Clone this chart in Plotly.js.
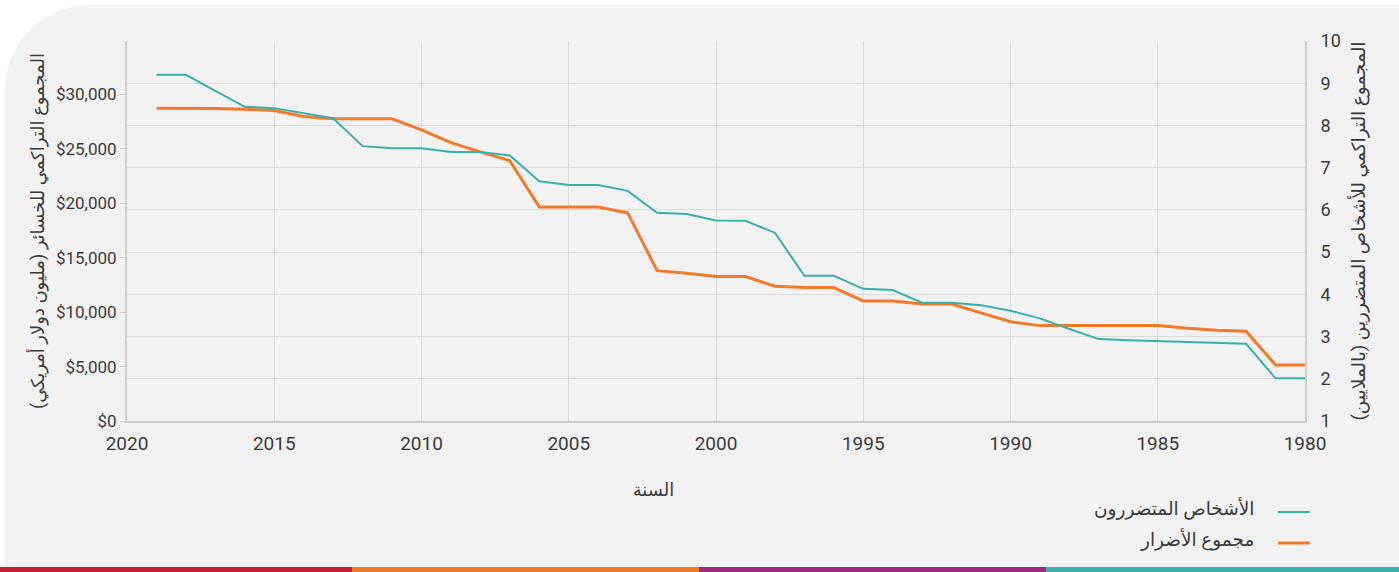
<!DOCTYPE html>
<html>
<head>
<meta charset="utf-8">
<script src="https://cdn.plot.ly/plotly-3.0.1.min.js"></script>
<style>
  html, body { margin:0; padding:0; background:#ffffff; width:1399px; height:572px; overflow:hidden; }
  #panel { position:absolute; left:5px; top:5px; width:1394px; height:567px; background:#f2f2f2; border-top-left-radius:85px; }
  #chart { position:absolute; left:0; top:0; width:1399px; height:572px; }
  .bar { position:absolute; top:567px; height:5px; }
</style>
</head>
<body>
<div id="panel"></div>
<div class="bar" style="left:0;width:352px;background:#c8202f"></div>
<div class="bar" style="left:352px;width:347px;background:#f07a2a"></div>
<div class="bar" style="left:699px;width:347px;background:#9b2b86"></div>
<div class="bar" style="left:1046px;width:353px;background:#3ab0aa"></div>
<div id="chart"></div>
<script>
// Years (x axis)
const years = [2019, 2018, 2017, 2016, 2015, 2014, 2013, 2012, 2011, 2010,
               2009, 2008, 2007, 2006, 2005, 2004, 2003, 2002, 2001, 2000,
               1999, 1998, 1997, 1996, 1995, 1994, 1993, 1992, 1991, 1990,
               1989, 1988, 1987, 1986, 1985, 1984, 1983, 1982, 1981, 1980];

// Cumulative affected people (millions) - right axis
const affectedPeople = [9.20, 9.20, 8.82, 8.44, 8.41, 8.29, 8.17, 7.51, 7.46, 7.46,
                        7.37, 7.37, 7.29, 6.68, 6.59, 6.59, 6.45, 5.93, 5.90, 5.75,
                        5.74, 5.46, 4.44, 4.44, 4.13, 4.10, 3.80, 3.80, 3.74, 3.61,
                        3.43, 3.18, 2.94, 2.91, 2.89, 2.87, 2.85, 2.83, 2.01, 2.01];

// Cumulative damages (million USD) - left axis
const totalDamages = [28730, 28730, 28690, 28640, 28510, 27960, 27750, 27750, 27750, 26740,
                      25570, 24720, 23910, 19660, 19660, 19660, 19110, 13810, 13570, 13280,
                      13260, 12380, 12250, 12250, 11030, 11030, 10750, 10750, 9930, 9120,
                      8760, 8760, 8760, 8760, 8760, 8520, 8330, 8240, 5150, 5150];

const seriesNames = ['الأشخاص المتضررون', 'مجموع الأضرار'];
const xTitle = 'السنة';
const yLeftTitle = 'المجموع التراكمي للخسائر (مليون دولار أمريكي)';
const yRightTitle = 'المجموع التراكمي للأشخاص المتضررين (بالملايين)';

const tealColor = '#3ab0aa';
const orangeColor = '#f47a2a';
const fontFamily = 'Roboto, "Noto Sans", "DejaVu Sans", sans-serif';
const textColor = '#3a3a3a';
const gridColor = '#dcdcdc';

// trailing no-break spaces (closed by a left-to-right mark so they are kept)
// push the centred x title to the left, as in the reference
const xTitlePad = '\u00A0'.repeat(28) + '\u200E';

const traces = [
  { x: years, y: affectedPeople, name: seriesNames[0], type: 'scatter', mode: 'lines',
    yaxis: 'y2', line: { color: tealColor, width: 2 }, showlegend: false },
  { x: years, y: totalDamages, name: seriesNames[1], type: 'scatter', mode: 'lines',
    yaxis: 'y', line: { color: orangeColor, width: 3 }, showlegend: false }
];

const layout = {
  width: 1399, height: 572,
  paper_bgcolor: 'rgba(0,0,0,0)',
  plot_bgcolor: 'rgba(0,0,0,0)',
  margin: { l: 127, r: 94, t: 41, b: 151 },
  font: { family: fontFamily, size: 16, color: textColor },
  showlegend: false,
  xaxis: {
    range: [2020, 1980],
    dtick: 5, tick0: 1980,
    showgrid: true, gridcolor: gridColor, gridwidth: 1,
    showline: true, linecolor: '#cccccc', linewidth: 2,
    zeroline: false, ticks: '', ticklabelstandoff: 4,
    tickfont: { size: 19, color: textColor },
    title: { text: xTitle + xTitlePad, font: { size: 18, color: textColor }, standoff: 30 }
  },
  yaxis: {
    range: [0, 34900],
    dtick: 5000, tick0: 0,
    tickprefix: '$', tickformat: ',.0f',
    showgrid: false, zeroline: false,
    showline: true, linecolor: '#cccccc', linewidth: 2,
    ticks: 'outside', ticklen: 5, tickcolor: '#cccccc',
    tickfont: { size: 17, color: textColor },
    title: { text: yLeftTitle, font: { size: 18, color: textColor }, standoff: 7 }
  },
  yaxis2: {
    range: [1, 10],
    dtick: 1, tick0: 1,
    overlaying: 'y', side: 'right',
    showgrid: true, gridcolor: gridColor, gridwidth: 1,
    zeroline: false,
    showline: true, linecolor: '#cccccc', linewidth: 2,
    ticks: '', ticklabelstandoff: 10,
    tickfont: { size: 18, color: textColor },
    title: { text: yRightTitle, font: { size: 18.5, color: textColor }, standoff: 12 }
  },
  shapes: [
    { type: 'line', xref: 'paper', yref: 'paper', x0: 0.977, x1: 1.004, y0: -0.2395, y1: -0.2395,
      line: { color: tealColor, width: 2 } },
    { type: 'line', xref: 'paper', yref: 'paper', x0: 0.977, x1: 1.004, y0: -0.321, y1: -0.321,
      line: { color: orangeColor, width: 3 } }
  ],
  annotations: [
    { xref: 'paper', yref: 'paper', x: 0.9585, y: -0.229, xanchor: 'right', yanchor: 'middle',
      text: seriesNames[0], showarrow: false, font: { size: 18.5, color: textColor } },
    { xref: 'paper', yref: 'paper', x: 0.9585, y: -0.313, xanchor: 'right', yanchor: 'middle',
      text: seriesNames[1], showarrow: false, font: { size: 18.5, color: textColor } }
  ]
};

Plotly.newPlot('chart', traces, layout, { displayModeBar: false, responsive: false });
</script>
</body>
</html>
